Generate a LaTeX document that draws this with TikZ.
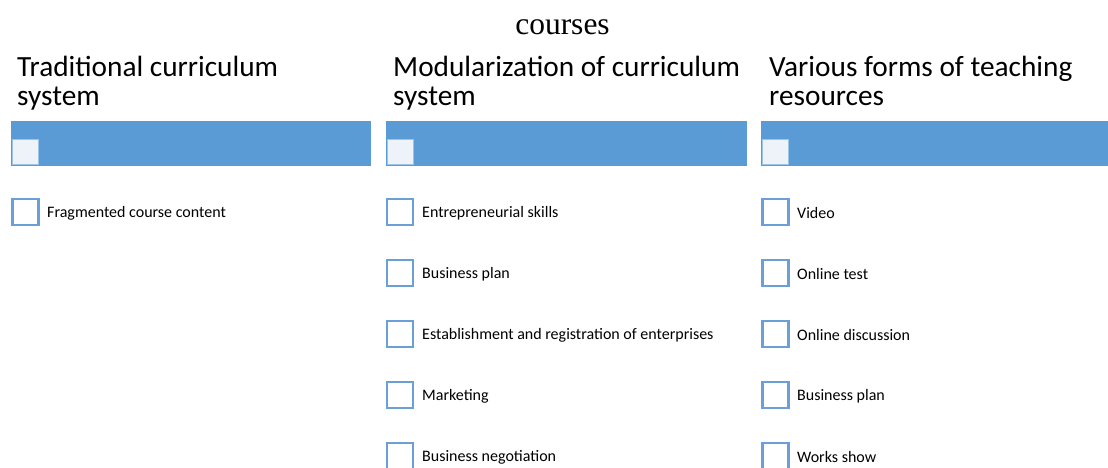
\documentclass[tikz,border=0pt]{standalone}
\usepackage{fontspec}
\setmainfont{Carlito}
\newfontfamily\titlefont{Liberation Serif}
\definecolor{barblue}{HTML}{5B9BD5}
\definecolor{tabfill}{HTML}{EEF3FA}
\definecolor{boxline}{HTML}{6A9FD8}
\begin{document}
\begin{tikzpicture}[x=1pt,y=-1pt,
  title/.style={font=\titlefont\fontsize{31.5}{33}\selectfont, anchor=base, inner sep=0},
  header/.style={font=\fontsize{29.3}{29}\selectfont, anchor=base west, inner sep=0, align=left},
  bar/.style={fill=barblue, draw=none},
  tab/.style={fill=tabfill, draw=barblue!60, line width=0.8pt},
  itembox/.style={draw=boxline, line width=2.8pt, fill=white, minimum width=26pt, minimum height=26pt, inner sep=0},
  itemtext/.style={font=\fontsize{16}{18}\selectfont, anchor=west, inner sep=0}]
\useasboundingbox (0,0) rectangle (1108,467);
\clip (0,0) rectangle (1108,467);

\node[title] (title) at (562.5,34) {courses};

% column headers (anchored on the baseline of their second line)
\node[header] (h1) at (17,105) {Traditional curriculum\\system};
\node[header] (h2) at (393,105) {Modularization of curriculum\\system};
\node[header] (h3) at (769,105) {Various forms of teaching\\resources};

% blue bars with small tabs
\foreach \x/\w/\n in {11/360/b1, 386/361/b2, 761/347/b3}{
  \fill[bar] (\x,121) rectangle ++(\w,45) coordinate (\n);
  \draw[tab] (\x+1.5,139) rectangle ++(26,25);
}

% column 1 items
\node[itembox] (a1) at (25.5,212) {};
\node[itemtext] (ta1) at (47,213) {Fragmented course content};

% column 2 items
\foreach \y/\t [count=\i] in {212/Entrepreneurial skills, 273/Business plan, 334/Establishment and registration of enterprises, 395/Marketing, 456/Business negotiation}{
  \node[itembox] (m\i) at (400,\y) {};
  \node[itemtext] (tm\i) at (422,\y+1) {\t};
}

% column 3 items
\foreach \y/\t [count=\i] in {212/Video, 273/Online test, 334/Online discussion, 395/Business plan, 456/Works show}{
  \node[itembox] (r\i) at (775.5,\y) {};
  \node[itemtext] (tr\i) at (797,\y+1) {\t};
}
\end{tikzpicture}
\end{document}
